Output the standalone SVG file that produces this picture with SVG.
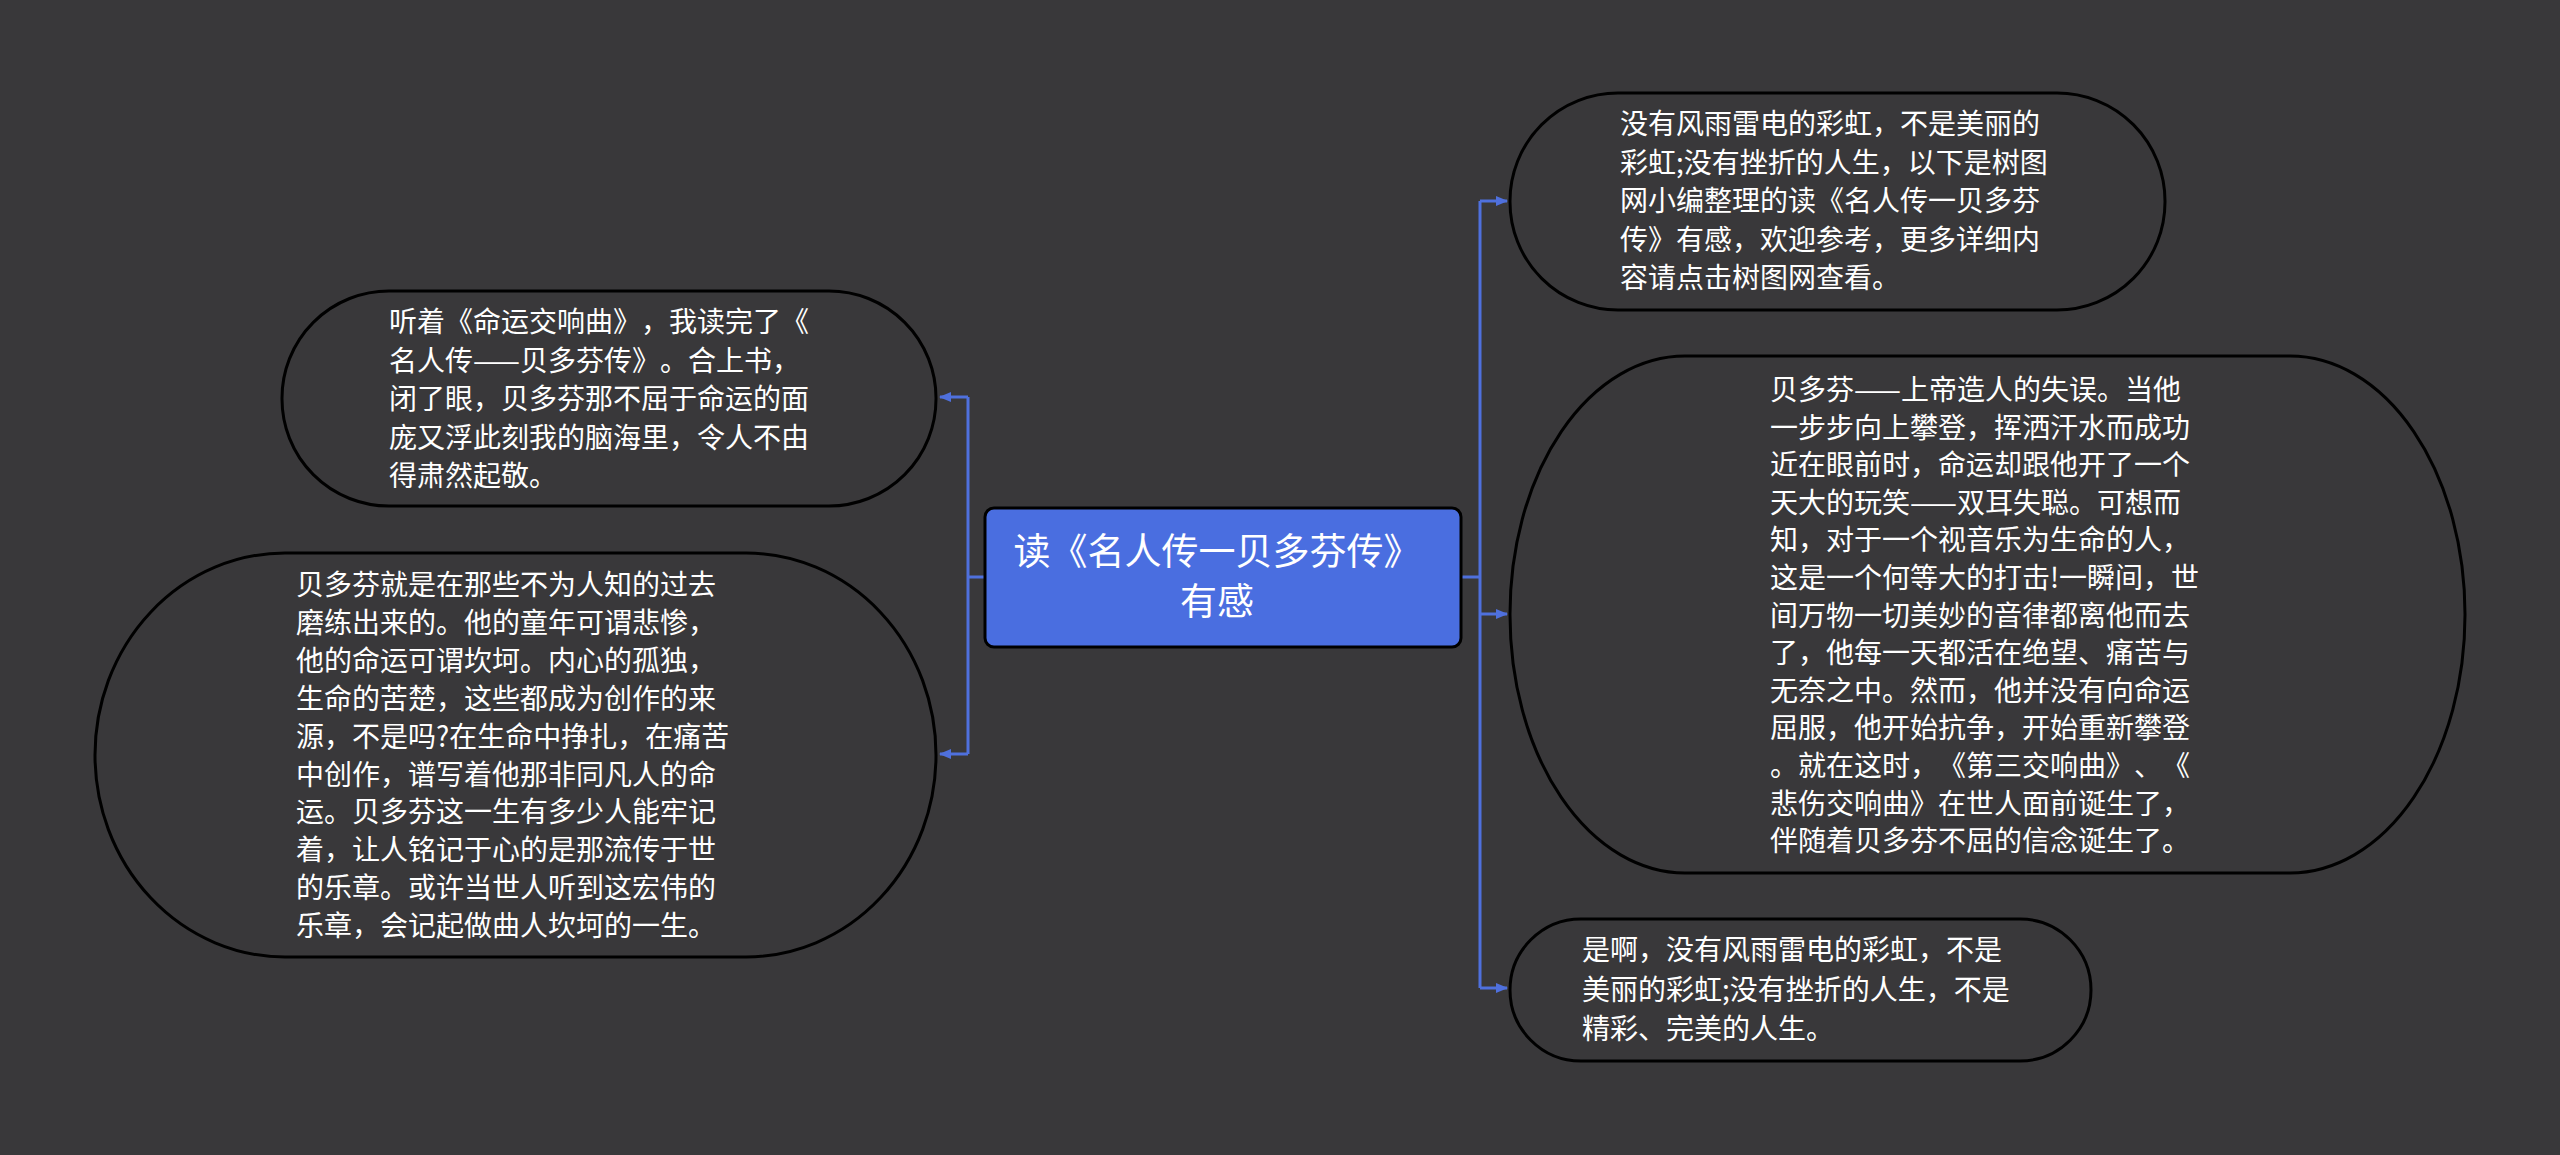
<svg xmlns="http://www.w3.org/2000/svg" width="2560" height="1155" viewBox="0 0 2560 1155">
<defs>
<marker id="ah" markerWidth="12" markerHeight="10" refX="11" refY="5" orient="auto" markerUnits="userSpaceOnUse">
<path d="M0,0 L12,5 L0,10 Z" fill="#4f70dd"/>
</marker>
<style>
svg{text-spacing-trim:space-all}
text{text-spacing-trim:space-all}
.node{fill:#39383a;stroke:#000;stroke-width:3}
.t{font-family:"Noto Sans CJK SC","Noto Sans",sans-serif;font-size:28px;fill:#fff}
.ct{font-family:"Noto Sans CJK SC","Noto Sans",sans-serif;font-size:37px;fill:#fff}
.c{fill:none;stroke:#4f70dd;stroke-width:3}
</style>
</defs>
<rect width="2560" height="1155" fill="#39383a"/>
<g id="connectors">
<path class="c" d="M985,577 H968"/>
<path class="c" d="M968,397 V754"/>
<path class="c" d="M968,397 H940" marker-end="url(#ah)"/>
<path class="c" d="M968,754 H940" marker-end="url(#ah)"/>
<path class="c" d="M1461,577 H1480"/>
<path class="c" d="M1480,201 V988"/>
<path class="c" d="M1480,201 H1507" marker-end="url(#ah)"/>
<path class="c" d="M1480,614 H1507" marker-end="url(#ah)"/>
<path class="c" d="M1480,988 H1507" marker-end="url(#ah)"/>
</g>
<g id="center">
<rect x="985" y="508" width="476" height="139" rx="9" fill="#4a6ee0" stroke="#000" stroke-width="3"/>
<text class="ct" x="1217" y="565" text-anchor="middle">读《名人传一贝多芬传》</text>
<text class="ct" x="1217" y="615" text-anchor="middle">有感</text>
</g>
<g id="node-l1">
<rect class="node" x="282" y="291" width="654" height="215" rx="107"/>
<text class="t" x="389" y="332"><tspan x="389">听着《命运交响曲》，我读完了《</tspan><tspan x="389" dy="38.5">名人传——贝多芬传》。合上书，</tspan><tspan x="389" dy="38.5">闭了眼，贝多芬那不屈于命运的面</tspan><tspan x="389" dy="38.5">庞又浮此刻我的脑海里，令人不由</tspan><tspan x="389" dy="38.5">得肃然起敬。</tspan></text>
</g>
<g id="node-l2">
<rect class="node" x="95" y="553" width="841" height="404" rx="190" ry="202"/>
<text class="t" x="296" y="595"><tspan x="296">贝多芬就是在那些不为人知的过去</tspan><tspan x="296" dy="37.9">磨练出来的。他的童年可谓悲惨，</tspan><tspan x="296" dy="37.9">他的命运可谓坎坷。内心的孤独，</tspan><tspan x="296" dy="37.9">生命的苦楚，这些都成为创作的来</tspan><tspan x="296" dy="37.9">源，不是吗?在生命中挣扎，在痛苦</tspan><tspan x="296" dy="37.9">中创作，谱写着他那非同凡人的命</tspan><tspan x="296" dy="37.9">运。贝多芬这一生有多少人能牢记</tspan><tspan x="296" dy="37.9">着，让人铭记于心的是那流传于世</tspan><tspan x="296" dy="37.9">的乐章。或许当世人听到这宏伟的</tspan><tspan x="296" dy="37.9">乐章，会记起做曲人坎坷的一生。</tspan></text>
</g>
<g id="node-r1">
<rect class="node" x="1510" y="93" width="655" height="217" rx="108"/>
<text class="t" x="1620" y="134"><tspan x="1620">没有风雨雷电的彩虹，不是美丽的</tspan><tspan x="1620" dy="38.5">彩虹;没有挫折的人生，以下是树图</tspan><tspan x="1620" dy="38.5">网小编整理的读《名人传一贝多芬</tspan><tspan x="1620" dy="38.5">传》有感，欢迎参考，更多详细内</tspan><tspan x="1620" dy="38.5">容请点击树图网查看。</tspan></text>
</g>
<g id="node-r2">
<rect class="node" x="1510" y="356" width="955" height="517" rx="175" ry="258"/>
<text class="t" x="1770" y="400"><tspan x="1770">贝多芬——上帝造人的失误。当他</tspan><tspan x="1770" dy="37.6">一步步向上攀登，挥洒汗水而成功</tspan><tspan x="1770" dy="37.6">近在眼前时，命运却跟他开了一个</tspan><tspan x="1770" dy="37.6">天大的玩笑——双耳失聪。可想而</tspan><tspan x="1770" dy="37.6">知，对于一个视音乐为生命的人，</tspan><tspan x="1770" dy="37.6">这是一个何等大的打击!一瞬间，世</tspan><tspan x="1770" dy="37.6">间万物一切美妙的音律都离他而去</tspan><tspan x="1770" dy="37.6">了，他每一天都活在绝望、痛苦与</tspan><tspan x="1770" dy="37.6">无奈之中。然而，他并没有向命运</tspan><tspan x="1770" dy="37.6">屈服，他开始抗争，开始重新攀登</tspan><tspan x="1770" dy="37.6">。就在这时，《第三交响曲》、《</tspan><tspan x="1770" dy="37.6">悲伤交响曲》在世人面前诞生了，</tspan><tspan x="1770" dy="37.6">伴随着贝多芬不屈的信念诞生了。</tspan></text>
</g>
<g id="node-r3">
<rect class="node" x="1510" y="919" width="581" height="142" rx="71"/>
<text class="t" x="1582" y="960"><tspan x="1582">是啊，没有风雨雷电的彩虹，不是</tspan><tspan x="1582" dy="39.5">美丽的彩虹;没有挫折的人生，不是</tspan><tspan x="1582" dy="39.5">精彩、完美的人生。</tspan></text>
</g>
</svg>
